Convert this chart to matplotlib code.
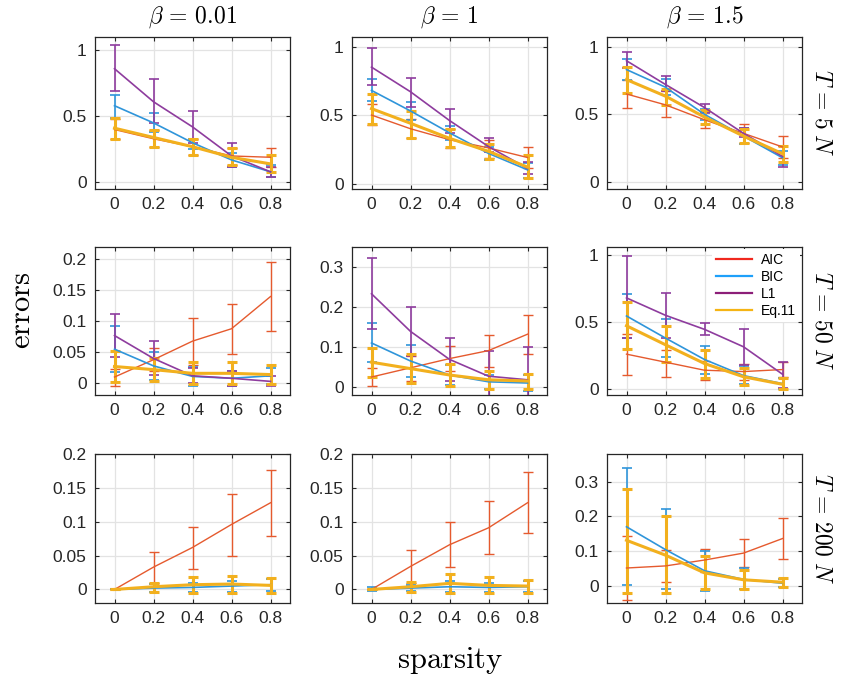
import numpy as np
import matplotlib
matplotlib.use("Agg")
import matplotlib.pyplot as plt
from matplotlib.lines import Line2D

plt.rcParams['mathtext.fontset'] = 'cm'
plt.rcParams['font.family'] = ['Liberation Sans', 'DejaVu Sans']

sparsity = [0, 0.2, 0.4, 0.6, 0.8]
beta_titles = [r'$\beta\,=\,0.01$', r'$\beta\,=\,1$', r'$\beta\,=\,1.5$']
row_labels = [r'$T\,=\,5\;N$', r'$T\,=\,50\;N$', r'$T\,=\,200\;N$']
methods = ['AIC', 'BIC', 'L1', 'Eq.11']

# [row][col][point] ; rows: T=5N, 50N, 200N ; cols: beta 0.01, 1, 1.5
aic_mean = [
    [[0.40, 0.33, 0.27, 0.20, 0.19], [0.50, 0.40, 0.32, 0.26, 0.19], [0.65, 0.57, 0.46, 0.36, 0.26]],
    [[0.010, 0.038, 0.068, 0.088, 0.140], [0.025, 0.048, 0.071, 0.091, 0.132], [0.26, 0.20, 0.14, 0.13, 0.145]],
    [[0.0, 0.033, 0.062, 0.096, 0.128], [0.0, 0.034, 0.066, 0.091, 0.128], [0.051, 0.057, 0.074, 0.094, 0.136]],
]
aic_hi = [
    [[0.48, 0.40, 0.33, 0.26, 0.26], [0.58, 0.47, 0.40, 0.32, 0.265], [0.75, 0.67, 0.52, 0.43, 0.34]],
    [[0.023, 0.057, 0.105, 0.128, 0.195], [0.047, 0.078, 0.102, 0.130, 0.181], [0.41, 0.29, 0.21, 0.19, 0.205]],
    [[0.0, 0.055, 0.092, 0.141, 0.177], [0.0, 0.058, 0.100, 0.131, 0.174], [0.142, 0.102, 0.107, 0.135, 0.196]],
]
aic_lo = [
    [[0.33, 0.27, 0.21, 0.13, 0.12], [0.43, 0.33, 0.26, 0.19, 0.11], [0.55, 0.48, 0.40, 0.29, 0.18]],
    [[-0.004, 0.020, 0.030, 0.048, 0.085], [0.002, 0.015, 0.040, 0.050, 0.083], [0.105, 0.09, 0.07, 0.07, 0.09]],
    [[0.0, 0.010, 0.030, 0.050, 0.079], [0.0, 0.010, 0.033, 0.052, 0.083], [-0.040, 0.012, 0.040, 0.053, 0.076]],
]

bic_mean = [
    [[0.58, 0.45, 0.30, 0.17, 0.08], [0.68, 0.53, 0.37, 0.22, 0.10], [0.83, 0.70, 0.50, 0.34, 0.18]],
    [[0.055, 0.028, 0.011, 0.008, 0.012], [0.110, 0.065, 0.030, 0.013, 0.010], [0.545, 0.38, 0.22, 0.10, 0.04]],
    [[0.0, 0.002, 0.003, 0.005, 0.007], [0.0, 0.002, 0.004, 0.003, 0.004], [0.17, 0.104, 0.043, 0.018, 0.007]],
]
bic_hi = [
    [[0.66, 0.525, 0.33, 0.22, 0.13], [0.765, 0.595, 0.42, 0.27, 0.15], [0.91, 0.76, 0.54, 0.40, 0.23]],
    [[0.093, 0.050, 0.027, 0.020, 0.025], [0.160, 0.105, 0.055, 0.030, 0.030], [0.71, 0.52, 0.32, 0.17, 0.08]],
    [[0.0, 0.008, 0.010, 0.013, 0.016], [0.003, 0.007, 0.012, 0.010, 0.012], [0.34, 0.22, 0.10, 0.05, 0.02]],
]
bic_lo = [
    [[0.49, 0.38, 0.25, 0.12, 0.04], [0.605, 0.466, 0.32, 0.17, 0.04], [0.75, 0.64, 0.46, 0.28, 0.13]],
    [[0.018, 0.005, -0.004, -0.004, -0.002], [0.062, 0.025, 0.005, -0.005, -0.010], [0.38, 0.24, 0.11, 0.04, 0.0]],
    [[0.0, -0.004, -0.004, -0.004, -0.003], [-0.003, -0.003, -0.004, -0.004, -0.004], [0.003, -0.010, -0.015, -0.010, -0.005]],
]

nan5 = [np.nan] * 5
l1_mean = [
    [[0.86, 0.61, 0.42, 0.20, 0.08], [0.85, 0.67, 0.46, 0.27, 0.11], [0.895, 0.72, 0.55, 0.36, 0.19]],
    [[0.077, 0.040, 0.012, 0.008, 0.003], [0.233, 0.139, 0.069, 0.027, 0.018], [0.68, 0.55, 0.445, 0.315, 0.11]],
    [nan5, nan5, nan5],
]
l1_hi = [
    [[1.04, 0.78, 0.54, 0.30, 0.12], [0.99, 0.767, 0.544, 0.33, 0.16], [0.96, 0.78, 0.58, 0.40, 0.27]],
    [[0.112, 0.068, 0.025, 0.020, 0.012], [0.322, 0.200, 0.122, 0.090, 0.099], [0.99, 0.72, 0.49, 0.45, 0.20]],
    [nan5, nan5, nan5],
]
l1_lo = [
    [[0.69, 0.45, 0.30, 0.12, 0.04], [0.716, 0.56, 0.37, 0.23, 0.07], [0.84, 0.67, 0.51, 0.33, 0.11]],
    [[0.042, 0.013, 0.0, -0.004, -0.005], [0.145, 0.078, 0.016, -0.035, -0.060], [0.38, 0.38, 0.40, 0.18, 0.01]],
    [nan5, nan5, nan5],
]

eq11_mean = [
    [[0.41, 0.34, 0.27, 0.19, 0.14], [0.547, 0.44, 0.33, 0.235, 0.12], [0.756, 0.634, 0.48, 0.34, 0.21]],
    [[0.027, 0.022, 0.016, 0.016, 0.014], [0.062, 0.046, 0.030, 0.018, 0.015], [0.472, 0.33, 0.19, 0.091, 0.035]],
    [[0.0, 0.004, 0.007, 0.008, 0.006], [0.0, 0.004, 0.009, 0.006, 0.005], [0.131, 0.088, 0.037, 0.017, 0.010]],
]
eq11_hi = [
    [[0.49, 0.40, 0.33, 0.26, 0.21], [0.657, 0.53, 0.40, 0.29, 0.21], [0.85, 0.69, 0.53, 0.39, 0.27]],
    [[0.052, 0.040, 0.034, 0.034, 0.030], [0.098, 0.082, 0.058, 0.040, 0.033], [0.65, 0.47, 0.29, 0.16, 0.08]],
    [[0.0, 0.010, 0.019, 0.020, 0.017], [0.0, 0.011, 0.023, 0.018, 0.014], [0.28, 0.20, 0.085, 0.045, 0.022]],
]
eq11_lo = [
    [[0.33, 0.27, 0.21, 0.13, 0.08], [0.436, 0.33, 0.27, 0.18, 0.04], [0.66, 0.57, 0.43, 0.29, 0.15]],
    [[0.002, 0.004, -0.002, -0.002, -0.002], [0.025, 0.010, 0.003, -0.005, -0.005], [0.30, 0.20, 0.08, 0.03, 0.0]],
    [[0.0, -0.004, -0.005, -0.005, -0.005], [0.0, -0.004, -0.005, -0.005, -0.005], [-0.02, -0.02, -0.01, -0.01, -0.004]],
]

ylims = [
    [(-0.05, 1.1), (-0.04, 1.07), (-0.05, 1.07)],
    [(-0.019, 0.22), (-0.02, 0.35), (-0.045, 1.06)],
    [(-0.02, 0.2), (-0.02, 0.2), (-0.05, 0.38)],
]
yticks = [
    [[0, 0.5, 1], [0, 0.5, 1], [0, 0.5, 1]],
    [[0, 0.05, 0.1, 0.15, 0.2], [0, 0.1, 0.2, 0.3], [0, 0.5, 1]],
    [[0, 0.05, 0.1, 0.15, 0.2], [0, 0.05, 0.1, 0.15, 0.2], [0, 0.1, 0.2, 0.3]],
]

colors = {'AIC': '#E55A2E', 'BIC': '#2F95DA', 'L1': '#8E3C9E', 'Eq.11': '#F2B01E'}
legend_colors = {'AIC': '#F0281E', 'BIC': '#1EA0FA', 'L1': '#8C1E78', 'Eq.11': '#F5B414'}
lws = {'AIC': 1.0, 'BIC': 1.2, 'L1': 1.2, 'Eq.11': 2.2}
data = {'AIC': (aic_mean, aic_lo, aic_hi), 'BIC': (bic_mean, bic_lo, bic_hi),
        'L1': (l1_mean, l1_lo, l1_hi), 'Eq.11': (eq11_mean, eq11_lo, eq11_hi)}

W, H = 849, 684
fig = plt.figure(figsize=(W / 100, H / 100), dpi=100)

col_left = [95, 352, 607]
col_w = 195
row_top = [37, 247, 454]
row_bot = [189, 395, 603]

def fmt(v):
    return '%g' % v

for r in range(3):
    for c in range(3):
        ax = fig.add_axes([col_left[c] / W, 1 - row_bot[r] / H, col_w / W, (row_bot[r] - row_top[r]) / H])
        ax.set_facecolor('white')
        for m in methods:
            mean, lo, hi = data[m]
            y = np.array(mean[r][c], dtype=float)
            if np.all(np.isnan(y)):
                continue
            ylo = y - np.array(lo[r][c], dtype=float)
            yhi = np.array(hi[r][c], dtype=float) - y
            ax.errorbar(sparsity, y, yerr=[ylo, yhi], color=colors[m], lw=lws[m],
                        elinewidth=lws[m], capsize=3.5, capthick=lws[m], zorder=3)
        ax.set_xlim(-0.1, 0.9)
        ax.set_ylim(*ylims[r][c])
        ax.set_xticks(sparsity)
        ax.set_xticklabels([fmt(v) for v in sparsity])
        ax.set_yticks(yticks[r][c])
        ax.set_yticklabels([fmt(v) for v in yticks[r][c]])
        ax.grid(True, color='#E3E3E3', lw=0.9, zorder=0)
        ax.set_axisbelow(True)
        ax.tick_params(direction='in', length=3, width=0.8, colors='#262626',
                       top=True, right=True, labelsize=12.5, pad=6)
        for sp in ax.spines.values():
            sp.set_color('#262626')
            sp.set_linewidth(0.9)
        if r == 0:
            ax.set_title(beta_titles[c], fontsize=17, pad=10)
        if c == 2:
            ax.text(1.1, 0.5, row_labels[r], transform=ax.transAxes, rotation=-90,
                    ha='center', va='center', fontsize=17)
        if r == 1 and c == 2:
            handles = [Line2D([], [], color=legend_colors[m], lw=1.6) for m in methods]
            ax.legend(handles, methods, loc='upper right', fontsize=10, frameon=True, framealpha=1,
                      edgecolor='none', handlelength=2.6, handletextpad=0.6, borderpad=0.3,
                      labelspacing=0.2, borderaxespad=0.15)

fig.text(22 / W, 1 - 310 / H, r'$\mathrm{errors}$', rotation=90, ha='center', va='center', fontsize=22)
fig.text(450 / W, 1 - 660 / H, r'$\mathrm{sparsity}$', ha='center', va='center', fontsize=22)

fig.savefig('out.png', dpi=100)
